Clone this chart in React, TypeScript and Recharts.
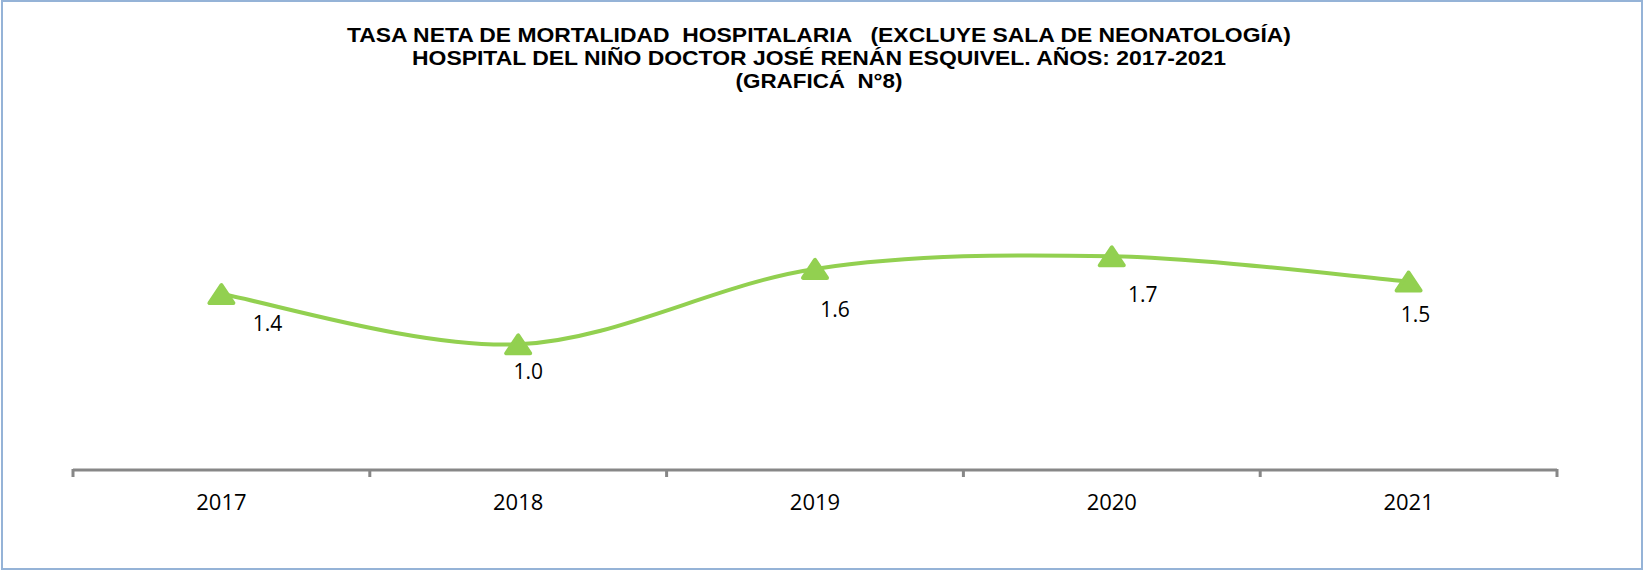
import { LineChart, Line, XAxis, YAxis, LabelList } from 'recharts';

const years = ['2017', '2018', '2019', '2020', '2021'];
const rates = [1.4, 1.0, 1.6, 1.7, 1.5];
const titleLines = [
  'TASA NETA DE MORTALIDAD  HOSPITALARIA   (EXCLUYE SALA DE NEONATOLOGÍA)',
  'HOSPITAL DEL NIÑO DOCTOR JOSÉ RENÁN ESQUIVEL. AÑOS: 2017-2021',
  '(GRAFICÁ  N°8)',
];
// widths the title lines take in the original
const titleWidths = [944, 814, 167];

const data = years.map((year, i) => ({ year, rate: rates[i] }));

const W = 1648;
const H = 571;
const MARGIN = { top: 93, right: 91, bottom: 41, left: 73 };
const BAND = (W - MARGIN.left - MARGIN.right) / years.length;
const GREEN = '#92d050';
const AXIS = '#878787';
const FONT = '"Open Sans", sans-serif';

// label nudges as placed in the original sheet
const LABEL_NUDGE = [
  [46, 29],
  [10, 27],
  [20, 40],
  [31, 38],
  [7, 32],
];

// Excel-like smoothed line (Catmull-Rom through the points)
function smoothCurve(context: any) {
  let pts: number[][] = [];
  return {
    areaStart() {},
    areaEnd() {},
    lineStart() {
      pts = [];
    },
    point(x: number, y: number) {
      pts.push([+x, +y]);
    },
    lineEnd() {
      if (!pts.length) return;
      context.moveTo(pts[0][0], pts[0][1]);
      for (let i = 0; i < pts.length - 1; i++) {
        const p0 = pts[i - 1] || pts[i];
        const p1 = pts[i];
        const p2 = pts[i + 1];
        const p3 = pts[i + 2] || p2;
        context.bezierCurveTo(
          p1[0] + (p2[0] - p0[0]) / 6,
          p1[1] + (p2[1] - p0[1]) / 6,
          p2[0] - (p3[0] - p1[0]) / 6,
          p2[1] - (p3[1] - p1[1]) / 6,
          p2[0],
          p2[1]
        );
      }
    },
  };
}

const Triangle = (props: any) => {
  const { cx, cy } = props;
  if (cx == null || cy == null) return null;
  const pts = `${cx},${cy - 9} ${cx - 12},${cy + 9} ${cx + 12},${cy + 9}`;
  return <polygon points={pts} fill={GREEN} stroke={GREEN} strokeWidth={4} strokeLinejoin="round" />;
};

const ValueLabel = (props: any) => {
  const { x, y, value, index } = props;
  const [dx, dy] = LABEL_NUDGE[index] || [0, 30];
  return (
    <text x={x + dx} y={y + dy} textAnchor="middle" dominantBaseline="central" fontFamily={FONT} fontSize={21} fill="#000">
      {Number(value).toFixed(1)}
    </text>
  );
};

const YearTick = (props: any) => {
  const { x, y, payload, index } = props;
  const left = x - BAND / 2;
  return (
    <g>
      <line x1={left} y1={y - 9} x2={left} y2={y - 1} stroke={AXIS} strokeWidth={3} />
      {index === years.length - 1 && (
        <line x1={x + BAND / 2} y1={y - 9} x2={x + BAND / 2} y2={y - 1} stroke={AXIS} strokeWidth={3} />
      )}
      <text x={x} y={y + 23} textAnchor="middle" dominantBaseline="central" fontFamily={FONT} fontSize={22} fill="#000">
        {payload.value}
      </text>
    </g>
  );
};

export default function App() {
  return (
    <div style={{ position: 'absolute', left: 0, top: 0, width: W, height: H, background: '#fff' }}>
      <svg width={W} height={H} style={{ position: 'absolute', left: 0, top: 0 }}>
        <rect x={2} y={1} width={1640} height={568} fill="none" stroke="#95b3d7" strokeWidth={2} />
        {titleLines.map((t, i) => (
          <text
            key={i}
            x={819}
            y={35 + i * 23}
            textAnchor="middle"
            dominantBaseline="central"
            fontFamily='"Liberation Sans", Arial, sans-serif'
            fontWeight="bold"
            fontSize={20}
            textLength={titleWidths[i]}
            lengthAdjust="spacingAndGlyphs"
            fill="#000"
            style={{ whiteSpace: 'pre' }}
          >
            {t}
          </text>
        ))}
      </svg>
      <div style={{ position: 'absolute', left: 0, top: 0 }}>
        <LineChart width={W} height={H} data={data} margin={MARGIN}>
          <XAxis
            dataKey="year"
            scale="band"
            height={60}
            axisLine={{ stroke: AXIS, strokeWidth: 3 }}
            tickLine={false}
            tick={<YearTick />}
            interval={0}
          />
          <YAxis hide domain={[0, 3]} />
          <Line
            dataKey="rate"
            type={smoothCurve as any}
            stroke={GREEN}
            strokeWidth={4}
            dot={<Triangle />}
            activeDot={false}
            isAnimationActive={false}
          >
            <LabelList dataKey="rate" content={<ValueLabel />} />
          </Line>
        </LineChart>
      </div>
    </div>
  );
}
